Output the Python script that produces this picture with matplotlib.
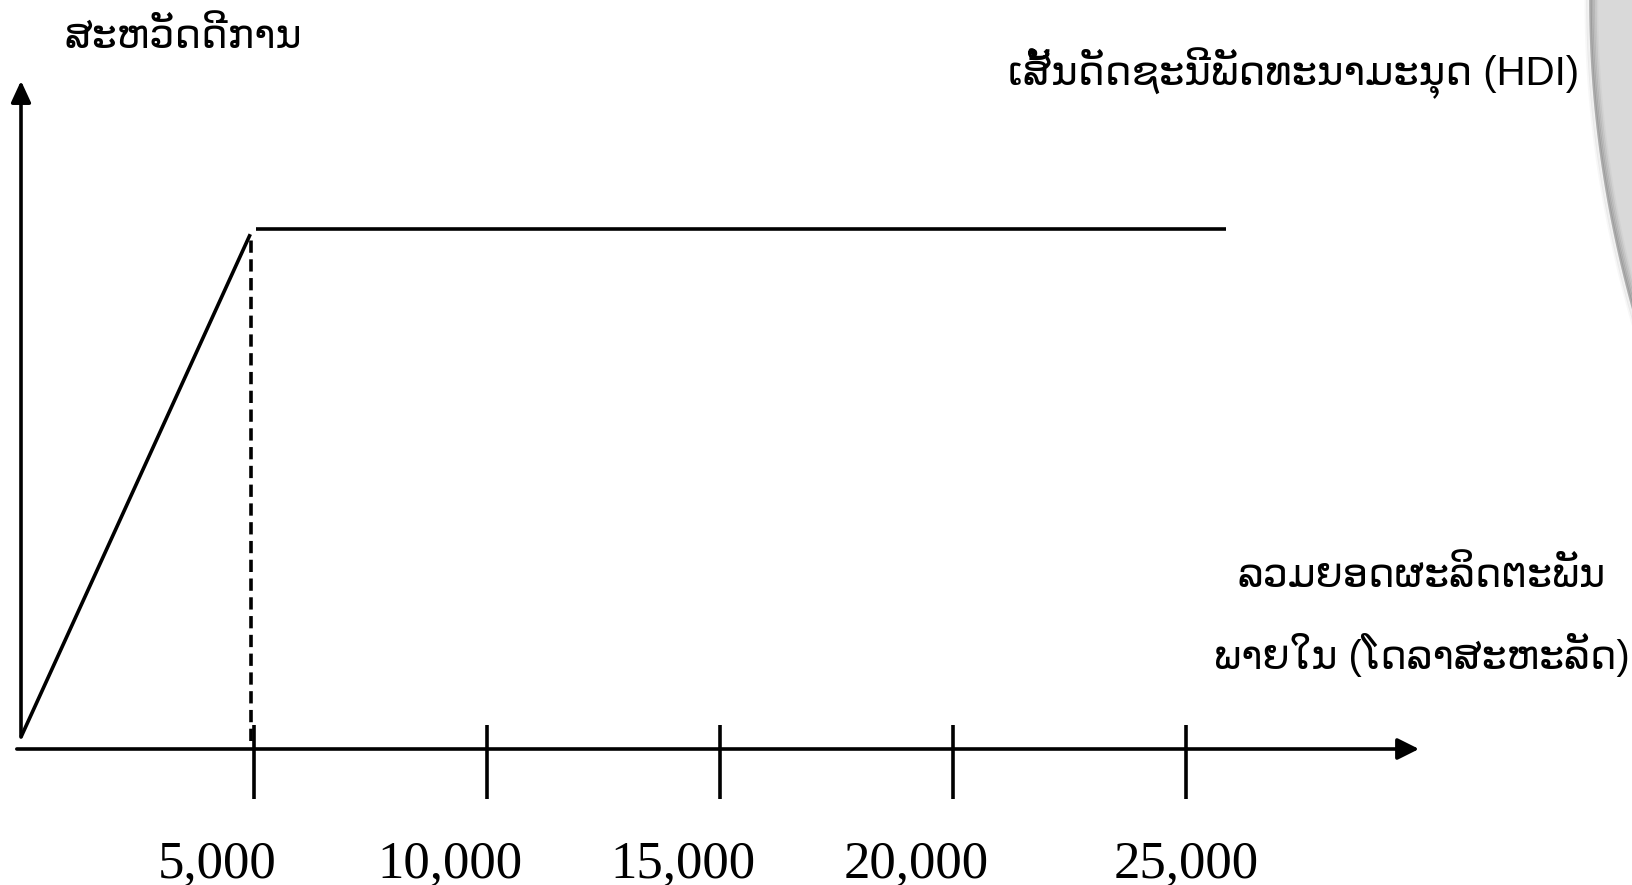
import numpy as np
import matplotlib
matplotlib.use("Agg")
import matplotlib.pyplot as plt
from matplotlib.patches import Polygon

# HDI welfare curve (income in US$, welfare index)
curve_x = [0, 4920]
curve_y = [0.023, 0.99]
plateau_x = [5050, 25850]
plateau_y = [1.0, 1.0]
threshold_x = 4935
threshold_y = [0.015, 0.99]

tick_values = [5000, 10000, 15000, 20000, 25000]
tick_labels = ["5,000", "10,000", "15,000", "20,000", "25,000"]

y_title = "ສະຫວັດດີການ"
curve_title = "ເສັ້ນດັດຊະນີພັດທະນາມະນຸດ (HDI)"
x_title = "ລວມຍອດຜະລິດຕະພັນ\nພາຍໃນ (ໂດລາສະຫະລັດ)"

W, H = 1632, 885
px = 5000 / 233  # data units per pixel along x

fig = plt.figure(figsize=(W / 100, H / 100), dpi=100)
ax = fig.add_axes([0, 0, 1, 1])
ax.set_xlim(-21 * px, (W - 21) * px)
ax.set_ylim(-136 / 520, (H - 136) / 520)
ax.axis("off")

lw = 2.6
# axes drawn as arrows
ax.annotate("", xy=(30000, 0), xytext=(-90, 0),
            arrowprops=dict(arrowstyle="-|>,head_length=1.3,head_width=0.65",
                            lw=lw, color="black", shrinkA=0, shrinkB=0))
ax.annotate("", xy=(0, 1.285), xytext=(0, 0.023),
            arrowprops=dict(arrowstyle="-|>,head_length=1.3,head_width=0.6",
                            lw=lw, color="black", shrinkA=0, shrinkB=0))

ax.vlines(tick_values, -0.096, 0.046, color="black", lw=lw)
# labels sit a little left of their ticks, except the last one
label_shift = [-37, -37, -37, -37, 0]
for v, lab, s in zip(tick_values, tick_labels, label_shift):
    ax.text(v + s * px, -0.221, lab, ha="center", va="center", fontsize=38,
            family="Liberation Serif")

ax.plot(curve_x, curve_y, color="black", lw=lw, solid_capstyle="butt")
ax.plot(plateau_x, plateau_y, color="black", lw=lw, solid_capstyle="butt")
ax.plot([threshold_x, threshold_x], threshold_y, color="black", lw=lw,
        linestyle=(0, (3.4, 1.8)))

lao = ["Liberation Sans", "DejaVu Sans"]
fig.text(65 / W, 1 - 37 / H, y_title, ha="left", va="center", fontsize=28.5,
         family=lao)
fig.text(1579 / W, 1 - 73 / H, curve_title, ha="right", va="center",
         fontsize=29, family=lao)
fig.text(1422 / W, 1 - 617 / H, x_title, ha="center", va="center",
         fontsize=28.5, family=lao, linespacing=2.05)

# grey page-curl decoration on the right edge
yy = np.linspace(0, 330, 60)
xx = 1589 + 45 * (yy / 317) ** 2
edge = np.column_stack([xx, yy])
poly = np.vstack([edge, [[W + 5, 330], [W + 5, -5], [1589, -5]]])
fig.patches.append(Polygon(np.column_stack([poly[:, 0] / W, 1 - poly[:, 1] / H]),
                           closed=True, transform=fig.transFigure,
                           facecolor="#d9d9d9", edgecolor="none"))
for k, a in enumerate([0.5, 0.38, 0.26, 0.16, 0.08]):
    fig.lines.append(plt.Line2D((xx + 1.5 + k * 1.6) / W, 1 - yy / H,
                                transform=fig.transFigure, color="#808080",
                                alpha=a, lw=1.8))
for k, a in enumerate([0.12, 0.06]):
    fig.lines.append(plt.Line2D((xx - 1.5 - k * 1.8) / W, 1 - yy / H,
                                transform=fig.transFigure, color="#808080",
                                alpha=a, lw=1.8))

fig.savefig("out.png", dpi=100)
